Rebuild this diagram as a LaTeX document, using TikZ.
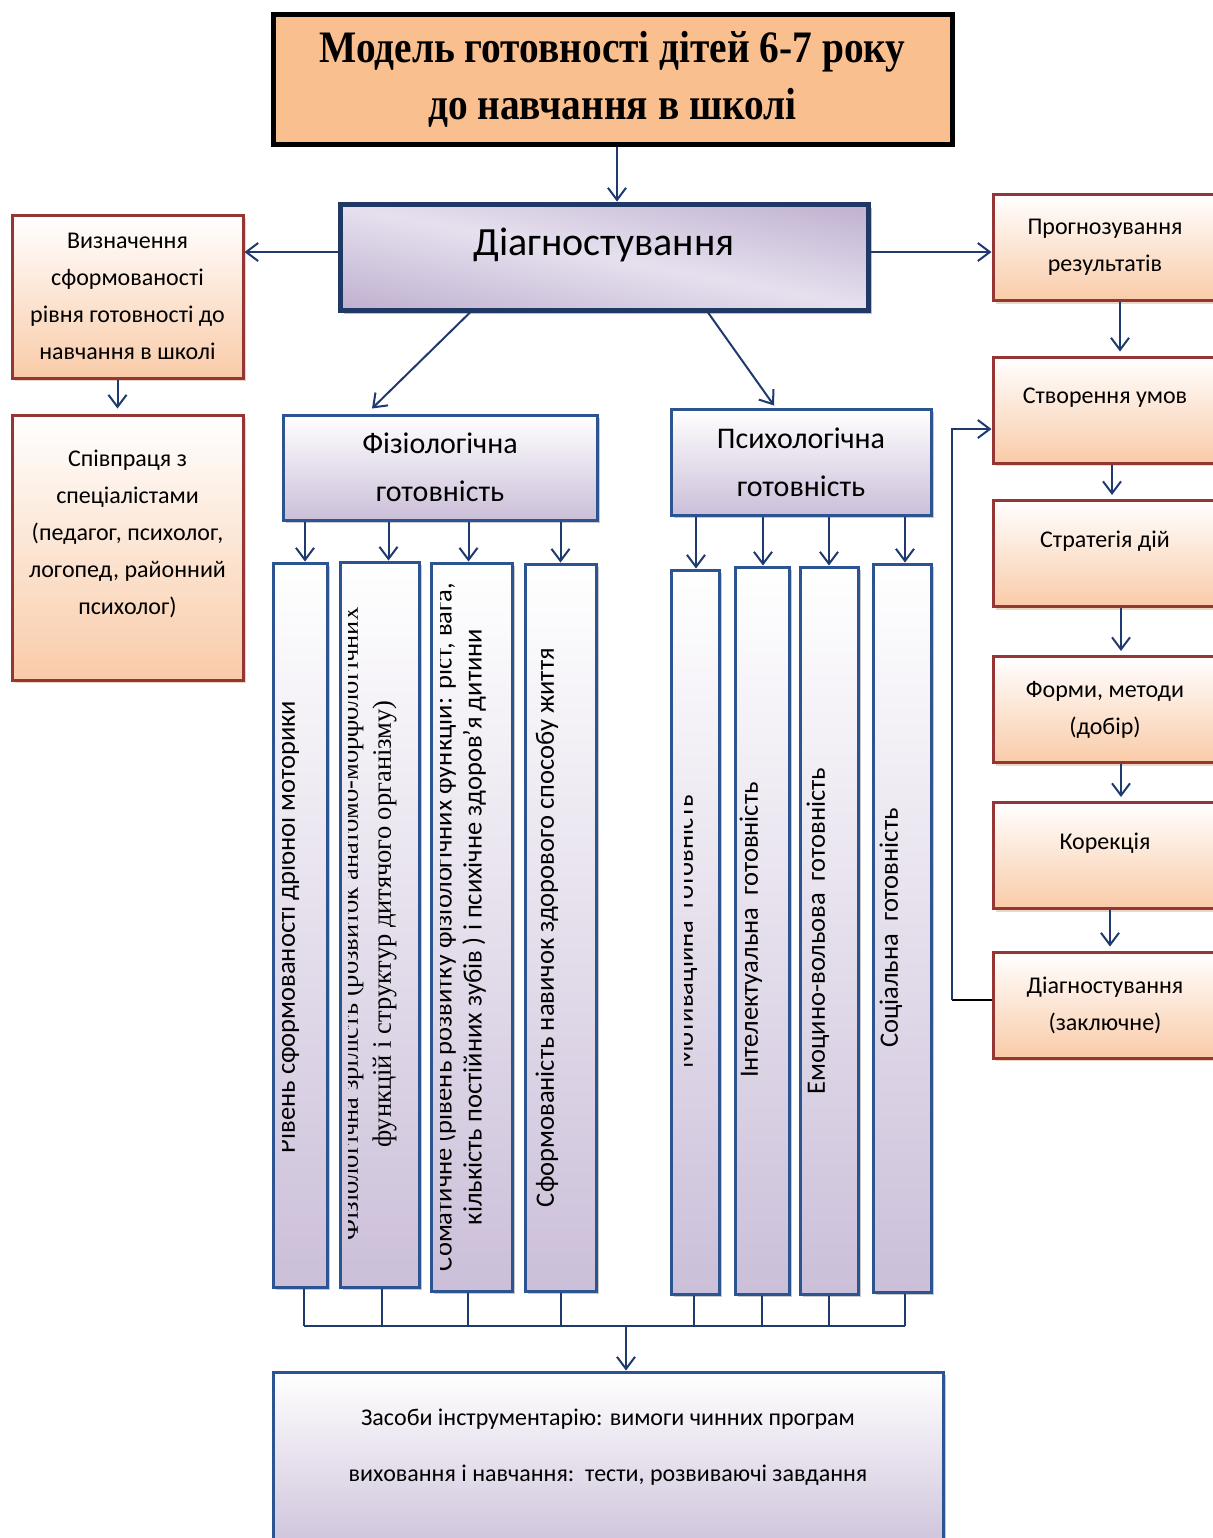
\documentclass[tikz,border=0pt]{standalone}
\usepackage{fontspec}
\setmainfont{Carlito}
\newfontfamily\tnr{Liberation Serif}
\newfontfamily\titlefont{Liberation Serif}[FakeStretch=0.875]
\usetikzlibrary{arrows.meta,shadows,calc}

\definecolor{navy}{HTML}{1F3A6E}
\definecolor{darknavy}{HTML}{1F3864}
\definecolor{steel}{HTML}{2C5490}
\definecolor{brick}{HTML}{963634}
\definecolor{peach}{HTML}{F9CBA8}
\definecolor{titleorange}{HTML}{F9BF8F}
\definecolor{lav}{HTML}{CBBFD9}
\definecolor{lavdark}{HTML}{B3A2C7}
\definecolor{lavlight}{HTML}{E6E0EE}

\pgfdeclareverticalshading{diagshade}{100bp}{color(0bp)=(lavdark); color(12bp)=(lavdark); color(50bp)=(lavlight); color(88bp)=(lavdark); color(100bp)=(lavdark)}

\begin{document}
\begin{tikzpicture}[x=0.5pt,y=-0.5pt,
    arr/.style={navy,line width=1pt,-{Straight Barb[length=6pt,width=9pt]}},
    conn/.style={navy,line width=1pt},
    boxfont/.style={font=\fontsize{12}{18.5}\selectfont},
    redbox/.style={draw=brick,line width=1.5pt,top color=white,bottom color=peach,
      drop shadow={shadow xshift=1.5pt,shadow yshift=-1.5pt,fill=brown!40,opacity=0.8},
      align=center,inner sep=0pt,boxfont},
    bluebox/.style={draw=steel,line width=1.5pt,top color=white,bottom color=lav,
      drop shadow={shadow xshift=1.5pt,shadow yshift=-1.5pt,fill=gray!60,opacity=0.7},
      align=center,inner sep=0pt},
    coltext/.style={rotate=90,inner sep=0pt,align=center,font=\fontsize{13.25}{15}\selectfont},
    raised/.style={text depth=14pt}]
  \clip (0,0) rectangle (1213,1538);

  % title and diagnostics
  \node[draw=black,line width=2.5pt,fill=titleorange,minimum width=339.5pt,minimum height=65pt,
        align=center,font=\titlefont\bfseries\fontsize{22.5}{28.5}\selectfont] (title) at (612.5,79)
        {Модель готовності дітей 6-7 року\\до навчання в школі};
  \node[draw=darknavy,line width=2.5pt,shading=diagshade,shading angle=-11,
        drop shadow={shadow xshift=2pt,shadow yshift=-2pt,fill=gray!70,opacity=0.7},
        minimum width=264pt,minimum height=53pt,font=\fontsize{20}{24}\selectfont,text depth=15pt]
        (diag) at (604,257) {Діагностування};

  % left side
  \node[redbox,minimum width=115.5pt,minimum height=81.5pt] (vyzn) at (127.5,296.5)
        {Визначення\\сформованості\\рівня готовності до\\навчання в школі};
  \node[redbox,minimum width=115.5pt,minimum height=132.5pt,
        label={[align=center,boxfont,yshift=7pt]center:{Співпраця з\\спеціалістами\\(педагог, психолог,\\логопед, районний\\психолог)}}]
        (spivp) at (127.5,547.5) {};

  % right side
  \node[redbox,minimum width=112pt,minimum height=53pt] (r1) at (1105,247.5) {Прогнозування\\результатів};
  \node[redbox,raised,minimum width=112pt,minimum height=53pt] (r2) at (1105,410) {Створення умов};
  \node[redbox,raised,minimum width=112pt,minimum height=53pt] (r3) at (1105,553.5) {Стратегія дій};
  \node[redbox,minimum width=112pt,minimum height=53pt] (r4) at (1105,709.5) {Форми, методи\\(добір)};
  \node[redbox,raised,minimum width=112pt,minimum height=53pt] (r5) at (1105,855.5) {Корекція};
  \node[redbox,minimum width=112pt,minimum height=53pt] (r6) at (1105,1005) {Діагностування\\(заключне)};

  % two kinds of readiness
  \node[bluebox,minimum width=157pt,minimum height=52.5pt,font=\fontsize{15}{24}\selectfont]
        (phys) at (440,467.5) {Фізіологічна\\готовність};
  \node[bluebox,minimum width=130pt,minimum height=53pt,font=\fontsize{15}{24}\selectfont]
        (psych) at (801,462) {Психологічна\\готовність};

  % columns
  \foreach \n/\x/\y/\w/\h in {c1/300/925/27/362, c2/379.5/924.5/39.5/362.5,
      c3/471.5/927/40.5/364, c4/560.5/927.5/35.5/363.5, p1/695/932/24/362,
      p2/762/930.5/27/363.5, p3/829/930.5/29/363.5, p4/902/928/29/364}
    \node[bluebox,minimum width=\w*1pt,minimum height=\h*1pt] (\n) at (\x,\y) {};

  \begin{scope}
    \clip (282,565) rectangle (325,1285);
    \node[coltext] (c1t) at (288,927) {Рівень сформованості дрібної моторики};
  \end{scope}
  \begin{scope}
    \clip (348,565) rectangle (417,1285);
    \node[coltext,font=\tnr\fontsize{13.25}{16.5}\selectfont] (c2t) at (368,924)
      {Фізіологічна зрілість (розвиток анатомо-морфологічних\\функцій і структур дитячого організму)};
  \end{scope}
  \begin{scope}
    \clip (440,565) rectangle (510,1289);
    \node[coltext] (c3t) at (459,927)
      {Соматичне (рівень розвитку фізіологічних функцій: ріст, вага,\\кількість постійних зубів ) і психічне здоров’я дитини};
  \end{scope}
  \node[coltext] (c4t) at (547,927.5) {Сформованість навичок здорового способу життя};
  \begin{scope}
    \clip (684,572) rectangle (717,1292);
    \node[coltext] (p1t) at (686,932) {Мотиваційна\ \ готовність};
  \end{scope}
  \node[coltext] (p2t) at (751,930) {Інтелектуальна\ \ готовність};
  \node[coltext] (p3t) at (818,931) {Емоцино-вольова\ \ готовність};
  \node[coltext] (p4t) at (891,928) {Соціальна\ \ готовність};

  % bottom box
  \node[bluebox,minimum width=335pt,minimum height=94pt,
        label={[align=center,font=\fontsize{12}{28}\selectfont,yshift=9.5pt]center:{Засоби інструментарію: вимоги чинних програм\\виховання і навчання:\ \ тести, розвиваючі завдання}}]
        (zasoby) at (608,1466) {};

  % arrows
  \draw[arr] ($(title.south)+(4.5,0)$) -- ($(title.south |- diag.north)+(4.5,0)$);
  \draw[arr] ($(diag.west)+(0,-5)$) -- ($(diag.west -| vyzn.east)+(0,-5)$);
  \draw[arr] ($(diag.east)+(0,-5)$) -- ($(diag.east -| r1.west)+(0,-5)$);
  \draw[arr] ($(vyzn.south)+(-10,0)$) -- ($(spivp.north)+(-10,-5)$);
  \draw[arr] ($(diag.south)+(-134,0)$) -- ($(phys.north)+(-68,-5)$);
  \draw[arr] ($(diag.south)+(104,0)$) -- ($(psych.north)+(-27,-2)$);
  \foreach \n/\dx in {c1/5,c2/9,c3/-3,c4/0}
    \draw[arr] ($(\n.north |- phys.south)+(\dx,0)$) -- ($(\n.north)+(\dx,0)$);
  \foreach \n/\dx in {p1/1,p2/1,p3/0,p4/3}
    \draw[arr] ($(\n.north |- psych.south)+(\dx,0)$) -- ($(\n.north)+(\dx,0)$);
  \foreach \a/\b/\dx in {r1/r2/15,r2/r3/7,r3/r4/16,r4/r5/16,r5/r6/5}
    \draw[arr] ($(\a.south)+(\dx,0)$) -- ($(\b.north)+(\dx,-4)$);

  % feedback loop
  \coordinate (fb) at ($(r6.west)+(-40,-5)$);
  \draw[line width=1pt] ($(r6.west)+(0,-5)$) -- (fb);
  \draw[arr] (fb) |- ($(r2.west)+(0,19)$);

  % collecting line
  \coordinate (bus) at (626,1326);
  \foreach \n/\dx in {c1/4,c2/2,c3/-4,c4/0,p1/-1,p2/0,p3/0,p4/3}
    \draw[conn] ($(\n.south)+(\dx,0)$) -- ($(\n.south |- bus)+(\dx,0)$);
  \draw[conn] ($(c1.south |- bus)+(4,0)$) -- ($(p4.south |- bus)+(3,0)$);
  \draw[arr] (bus) -- (bus |- zasoby.north);
\end{tikzpicture}
\end{document}
